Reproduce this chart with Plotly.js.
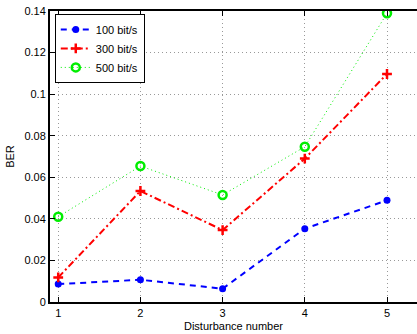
<!DOCTYPE html>
<html>
<head>
<meta charset="utf-8">
<script src="https://cdn.plot.ly/plotly-3.0.1.min.js"></script>
<style>html,body{margin:0;padding:0;background:#fff;}#chart{width:417px;height:334px;}</style>
</head>
<body>
<div id="chart"></div>
<script>
var disturbance = [1, 2, 3, 4, 5];
var ber100 = [0.0086, 0.0107, 0.0064, 0.0353, 0.0489];
var ber300 = [0.0118, 0.0534, 0.0346, 0.0690, 0.1097];
var ber500 = [0.0410, 0.0654, 0.0515, 0.0747, 0.1389];
var seriesNames = ['100 bit/s', '300 bit/s', '500 bit/s'];
var yTicks = [0, 0.02, 0.04, 0.06, 0.08, 0.1, 0.12, 0.14];
var yTickText = ['0', '0.02', '0.04', '0.06', '0.08', '0.1', '0.12', '0.14'];

var traces = [
  {x: disturbance, y: ber100, name: seriesNames[0], mode: 'lines+markers',
   line: {color: '#0000ff', width: 2, dash: '6px,5px'},
   marker: {symbol: 'circle', size: 7, color: '#0000ff'}},
  {x: disturbance, y: ber300, name: seriesNames[1], mode: 'lines+markers',
   line: {color: '#ff0000', width: 2, dash: '7px,3px,2px,3px'},
   marker: {symbol: 'cross-thin', size: 7, color: '#ff0000', line: {color: '#ff0000', width: 2.5}}},
  {x: disturbance, y: ber500, name: seriesNames[2], mode: 'lines+markers',
   line: {color: '#00ee00', width: 1, dash: '1px,3px'},
   marker: {symbol: 'circle-open', size: 8, color: '#00ee00', line: {color: '#00ee00', width: 2.5}}}
];

var layout = {
  width: 417, height: 334,
  margin: {l: 50, r: 0, t: 11, b: 32, pad: 0},
  paper_bgcolor: '#ffffff', plot_bgcolor: '#ffffff',
  font: {family: 'Liberation Sans, Arial, sans-serif', size: 11, color: '#000'},
  showlegend: true,
  legend: {x: 0.013, y: 0.99, xanchor: 'left', yanchor: 'top',
    bgcolor: '#ffffff', bordercolor: '#000', borderwidth: 1,
    font: {size: 11}, tracegroupgap: 0, itemwidth: 30},
  xaxis: {
    range: [0.9, 5.365], tickvals: disturbance, ticktext: disturbance.map(String),
    showline: true, linecolor: '#000', linewidth: 2, mirror: 'ticks',
    ticks: 'inside', ticklen: 5, tickcolor: '#000',
    showgrid: true, gridcolor: '#999', griddash: '1px,3px', gridwidth: 1,
    zeroline: false,
    title: {text: 'Disturbance number', standoff: 4, font: {size: 11}}
  },
  yaxis: {
    range: [0, 0.14], tickvals: yTicks, ticktext: yTickText,
    showline: true, linecolor: '#000', linewidth: 2,
    ticks: 'inside', ticklen: 5, tickcolor: '#000',
    showgrid: true, gridcolor: '#999', griddash: '1px,3px', gridwidth: 1,
    zeroline: false,
    title: {text: 'BER', standoff: 8, font: {size: 11}}
  }
};

Plotly.newPlot('chart', traces, layout, {displayModeBar: false, staticPlot: true});
</script>
</body>
</html>
